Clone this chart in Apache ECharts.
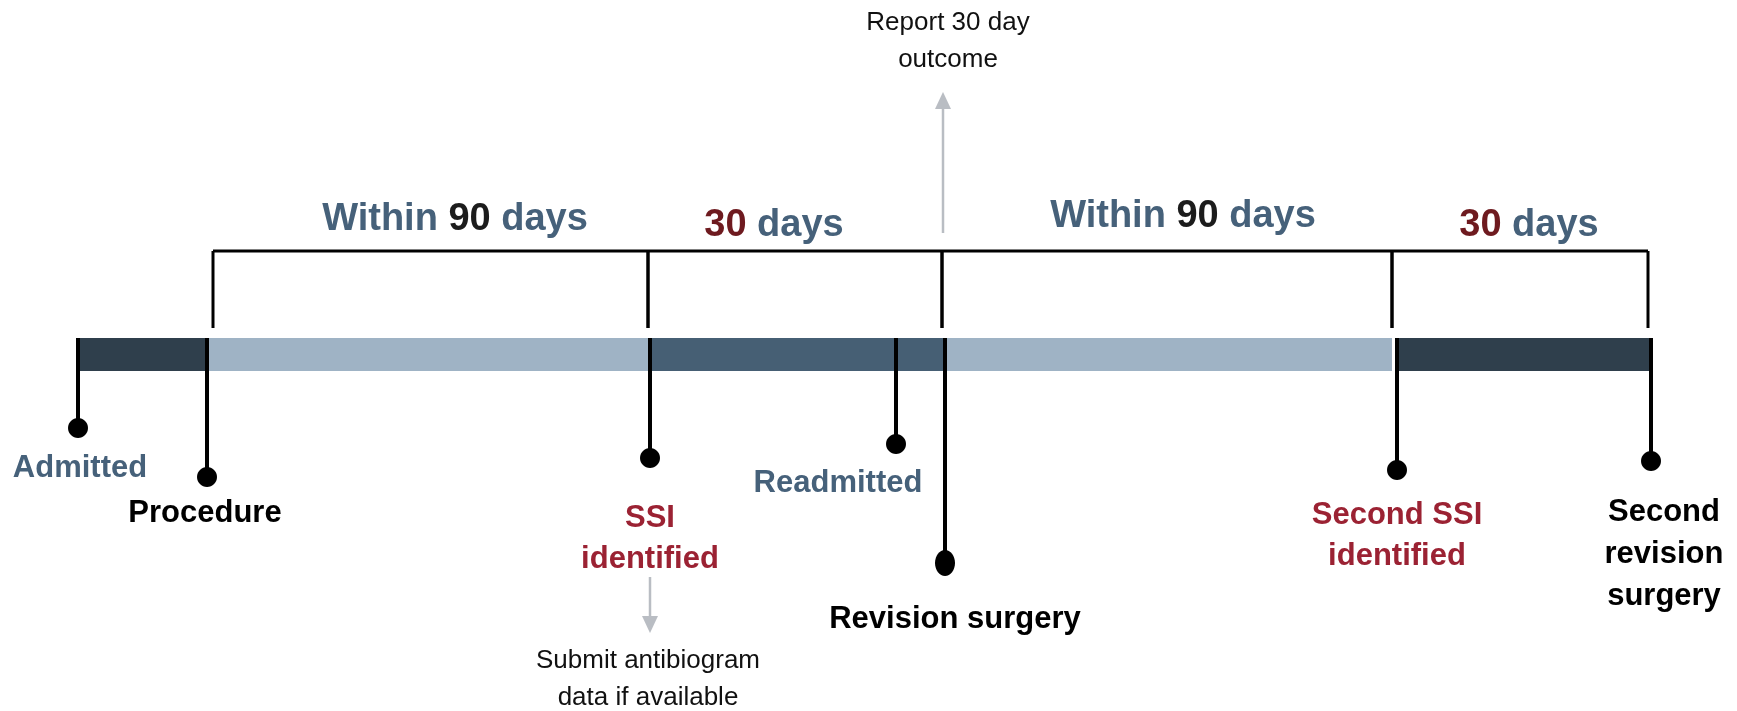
<!DOCTYPE html>
<html>
<head>
<meta charset="utf-8">
<script src="https://cdn.jsdelivr.net/npm/echarts@6/dist/echarts.min.js"></script>
<style>
  html, body { margin: 0; padding: 0; background: #fff; }
  #main { width: 1737px; height: 711px; }
</style>
</head>
<body>
<div id="main"></div>
<script>
// timeline bar pieces (positions on the diagram's timeline scale)
const segStart = [77, 207, 650, 945, 1395]
const segEnd = [207, 648, 945, 1392, 1651]
const segTone = ['dark', 'light', 'mid', 'light', 'dark']

// bracketed periods above the bar
const periodStart = [213, 648, 942, 1392]
const periodEnd = [648, 942, 1392, 1648]
const periodNum = ['90', '30', '90', '30']
const periodKind = ['within', 'fixed', 'within', 'fixed']

// events hanging under the bar
const eventNames = ['Admitted', 'Procedure', 'SSI\nidentified', 'Readmitted', 'Revision surgery', 'Second SSI\nidentified', 'Second\nrevision\nsurgery']
const eventPos = [78, 207, 650, 896, 945, 1397, 1651]
const eventDepth = [428, 477, 458, 444, 563, 470, 461]
const eventKind = ['admit', 'key', 'ssi', 'admit', 'key', 'ssi', 'key']

// reporting notes
const noteText = ['Report 30 day\noutcome', 'Submit antibiogram\ndata if available']
const notePos = [943, 650]

// ---- layout / styles ----
const BAR_TOP = 338
const BAR_BOTTOM = 371
const BRACKET_Y = 251
const TICK_END = 328
const FONT = '"Liberation Sans", Arial, sans-serif'
const TONE = { dark: '#2f3f4c', mid: '#465f74', light: '#9fb3c5' }
const BLUE = '#46617a'
const KIND_COLOR = { admit: '#46617a', key: '#000000', ssi: '#9b2233' }
// label anchors (centre of text block) for each event
const labelX = [80, 205, 650, 838, 955, 1397, 1664]
const labelY = [468, 513, 539, 483, 619, 536, 554]
const dotRy = [10, 10, 10, 10, 13, 10, 10]
// period label anchors
const periodLabelX = [455, 774, 1183, 1529]
const periodLabelY = [220, 226, 217, 226]
// note arrows: [from, to] along y, text anchor offsets
const noteArrow = [[233, 92], [577, 633]]
const noteTextY = [41, 679]
const noteTextDx = [5, -2]

var chart = echarts.init(document.getElementById('main'))

function segItem(params, api) {
  const a = api.coord([api.value(0), BAR_TOP])
  const b = api.coord([api.value(1), BAR_BOTTOM])
  return {
    type: 'rect',
    shape: { x: a[0], y: a[1], width: b[0] - a[0], height: b[1] - a[1] },
    style: { fill: TONE[segTone[params.dataIndex]] },
  }
}

function periodItem(params, api) {
  const i = params.dataIndex
  const l = api.coord([api.value(0), BRACKET_Y])
  const r = api.coord([api.value(1), BRACKET_Y])
  const lb = api.coord([api.value(0), TICK_END])
  const rb = api.coord([api.value(1), TICK_END])
  const t = api.coord([periodLabelX[i], periodLabelY[i]])
  const txt = periodKind[i] == 'within' ? 'Within {n|' + periodNum[i] + '} days' : '{r|' + periodNum[i] + '} days'
  const stroke = { stroke: '#000', lineWidth: 3 }
  return {
    type: 'group',
    children: [
      { type: 'line', shape: { x1: l[0], y1: l[1], x2: r[0], y2: r[1] }, style: stroke },
      { type: 'line', shape: { x1: l[0], y1: l[1], x2: lb[0], y2: lb[1] }, style: stroke },
      { type: 'line', shape: { x1: r[0], y1: r[1], x2: rb[0], y2: rb[1] }, style: stroke },
      {
        type: 'text',
        x: t[0],
        y: t[1],
        style: {
          text: txt,
          fill: BLUE,
          font: 'bold 38px ' + FONT,
          align: 'center',
          verticalAlign: 'middle',
          rich: {
            n: { fill: '#1c1c1c', fontSize: 38, fontWeight: 'bold', fontFamily: FONT },
            r: { fill: '#6e1a1f', fontSize: 38, fontWeight: 'bold', fontFamily: FONT },
          },
        },
      },
    ],
  }
}

function eventItem(params, api) {
  const i = params.dataIndex
  const top = api.coord([api.value(0), BAR_TOP])
  const dot = api.coord([api.value(0), api.value(1)])
  const lab = api.coord([labelX[i], labelY[i]])
  const lines = eventNames[i].split('\n').length
  return {
    type: 'group',
    children: [
      { type: 'line', shape: { x1: top[0], y1: top[1], x2: dot[0], y2: dot[1] }, style: { stroke: '#000', lineWidth: 4 } },
      { type: 'ellipse', shape: { cx: dot[0], cy: dot[1], rx: 10, ry: dotRy[i] }, style: { fill: '#000' } },
      {
        type: 'text',
        x: lab[0],
        y: lab[1],
        style: {
          text: eventNames[i],
          fill: KIND_COLOR[eventKind[i]],
          font: 'bold 31px ' + FONT,
          lineHeight: lines > 2 ? 42 : 41,
          align: 'center',
          verticalAlign: 'middle',
        },
      },
    ],
  }
}

function noteItem(params, api) {
  const i = params.dataIndex
  const a = api.coord([api.value(0), noteArrow[i][0]])
  const b = api.coord([api.value(0), noteArrow[i][1]])
  const t = api.coord([api.value(0), noteTextY[i]])
  const dir = b[1] > a[1] ? 1 : -1
  const headLen = 17
  const shaftEnd = b[1] - dir * headLen
  return {
    type: 'group',
    children: [
      { type: 'line', shape: { x1: a[0], y1: a[1], x2: b[0], y2: shaftEnd }, style: { stroke: '#b9bdc3', lineWidth: 2.5 } },
      {
        type: 'polygon',
        shape: { points: [[b[0], b[1]], [b[0] - 8, shaftEnd], [b[0] + 8, shaftEnd]] },
        style: { fill: '#b9bdc3' },
      },
      {
        type: 'text',
        x: t[0] + noteTextDx[i],
        y: t[1],
        style: {
          text: noteText[i],
          fill: '#111',
          font: '26px ' + FONT,
          lineHeight: 37,
          align: 'center',
          verticalAlign: 'middle',
        },
      },
    ],
  }
}

var option = {
  animation: false,
  grid: { left: 0, right: 0, top: 0, bottom: 0 },
  xAxis: { type: 'value', min: 0, max: 1737, show: false },
  yAxis: { type: 'value', min: 0, max: 711, inverse: true, show: false },
  series: [
    {
      type: 'custom',
      silent: true,
      z: 1,
      renderItem: segItem,
      data: segStart.map((s, i) => [s, segEnd[i]]),
      encode: { x: [0, 1] },
    },
    {
      type: 'custom',
      silent: true,
      z: 2,
      renderItem: periodItem,
      data: periodStart.map((s, i) => [s, periodEnd[i]]),
      encode: { x: [0, 1] },
    },
    {
      type: 'custom',
      silent: true,
      z: 3,
      renderItem: eventItem,
      data: eventPos.map((p, i) => [p, eventDepth[i]]),
      encode: { x: 0, y: 1 },
    },
    {
      type: 'custom',
      silent: true,
      z: 2,
      renderItem: noteItem,
      data: notePos.map((p) => [p]),
      encode: { x: 0 },
    },
  ],
}

option && chart.setOption(option)
</script>
</body>
</html>
